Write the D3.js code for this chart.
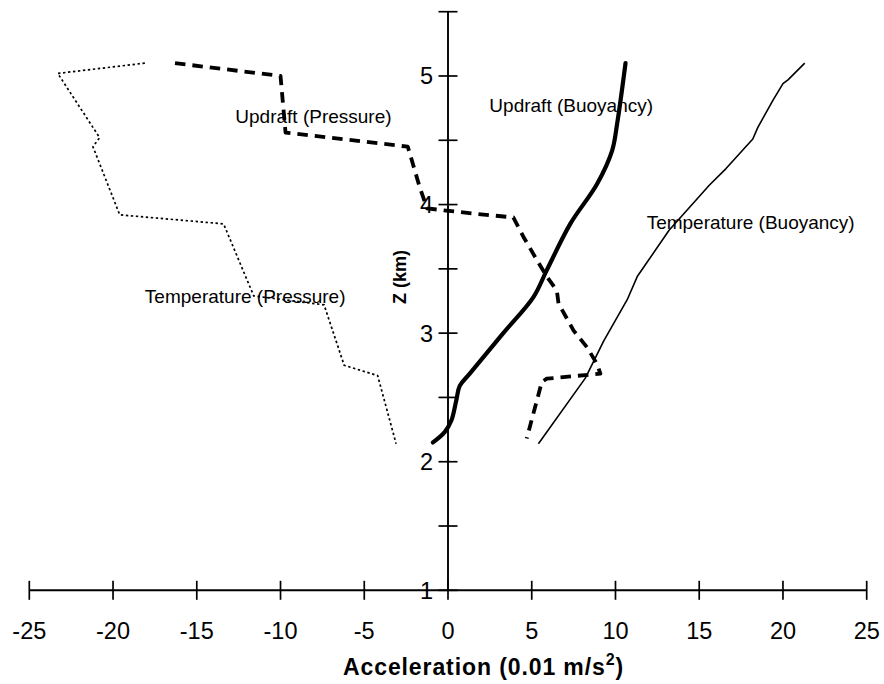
<!DOCTYPE html>
<html>
<head>
<meta charset="utf-8">
<script src="https://cdn.jsdelivr.net/npm/d3@7"></script>
<style>
  html, body { margin: 0; padding: 0; background: #fff; }
  svg { display: block; font-family: "Liberation Sans", Arial, Helvetica, sans-serif; }
</style>
</head>
<body>
<svg id="chart" width="884" height="684"></svg>
<script>
// ---- data (acceleration in 0.01 m/s^2, height Z in km) ----
const tempPressureX = [-18.1, -23.3, -20.8, -21.2, -19.6, -13.4, -11.6, -7.4, -6.2, -4.2, -3.1];
const tempPressureZ = [5.10, 5.02, 4.52, 4.45, 3.92, 3.85, 3.29, 3.22, 2.75, 2.67, 2.14];

const updraftPressureX = [-16.3, -10.0, -9.7, -2.4, -1.7, -1.25, 1.5, 3.9, 4.5, 5.3, 5.9, 6.5, 6.6, 7.5, 8.3, 8.9, 9.1, 5.9, 5.6, 4.7];
const updraftPressureZ = [5.10, 5.00, 4.56, 4.45, 4.14, 3.97, 3.93, 3.90, 3.75, 3.57, 3.44, 3.33, 3.23, 3.02, 2.89, 2.76, 2.685, 2.646, 2.62, 2.18];

const updraftBuoyX = [10.6, 10.1, 9.8, 8.9, 7.3, 5.9, 5.1, 3.3, 1.3, 0.7, 0.5, 0.2, -0.2, -0.9];
const updraftBuoyZ = [5.10, 4.63, 4.42, 4.16, 3.85, 3.49, 3.28, 3.00, 2.685, 2.59, 2.48, 2.32, 2.23, 2.15];

const tempBuoyX = [21.3, 20.3, 20.0, 19.4, 18.5, 18.2, 16.6, 15.6, 13.2, 11.3, 10.7, 9.3, 8.2, 5.4];
const tempBuoyZ = [5.10, 4.97, 4.94, 4.81, 4.60, 4.51, 4.28, 4.15, 3.80, 3.44, 3.26, 2.94, 2.65, 2.14];

const xTicks = [-25, -20, -15, -10, -5, 0, 5, 10, 15, 20, 25];
const yTicks = [1, 1.5, 2, 2.5, 3, 3.5, 4, 4.5, 5, 5.5];
const yTickLabels = [1, 2, 3, 4, 5];

const labelNames = ["Updraft (Pressure)", "Temperature (Pressure)", "Updraft (Buoyancy)", "Temperature (Buoyancy)"];
const labelX = [-12.7, -18.1, 2.47, 11.86];
const labelZ = [4.686, 3.286, 4.77, 3.864];

// ---- layout ----
const svg = d3.select("#chart");
const x = d3.scaleLinear().domain([-25, 25]).range([29.3, 866.7]);
const y = d3.scaleLinear().domain([1, 5.5]).range([590.3, 11.7]);

const zip = (xs, zs) => xs.map((v, i) => [v, zs[i]]);
const line = d3.line().x(d => x(d[0])).y(d => y(d[1]));
const smooth = d3.line().x(d => x(d[0])).y(d => y(d[1])).curve(d3.curveCatmullRom.alpha(0.5));

// x axis (ticks cross the axis line)
const xAxis = svg.append("g").attr("transform", `translate(0,${y(1)})`);
xAxis.append("line").attr("x1", x(-25)).attr("x2", x(25)).attr("stroke", "#000").attr("stroke-width", 1.9);
xAxis.selectAll("line.tick").data(xTicks).enter().append("line")
  .attr("class", "tick")
  .attr("x1", d => x(d)).attr("x2", d => x(d))
  .attr("y1", -9.5).attr("y2", 9.5)
  .attr("stroke", "#000").attr("stroke-width", 1.7);
xAxis.selectAll("text").data(xTicks).enter().append("text")
  .attr("x", d => x(d)).attr("y", 49)
  .attr("text-anchor", "middle")
  .attr("font-size", 23.5)
  .attr("fill", "#000")
  .text(d => d);

// y axis at x = 0
const yAxis = svg.append("g").attr("transform", `translate(${x(0)},0)`);
yAxis.append("line").attr("y1", y(1)).attr("y2", y(5.5)).attr("stroke", "#000").attr("stroke-width", 1.9);
yAxis.selectAll("line.tick").data(yTicks).enter().append("line")
  .attr("class", "tick")
  .attr("y1", d => y(d)).attr("y2", d => y(d))
  .attr("x1", -9.5).attr("x2", 9.5)
  .attr("stroke", "#000").attr("stroke-width", 1.7);
yAxis.selectAll("text").data(yTickLabels).enter().append("text")
  .attr("x", -15).attr("y", d => y(d) + 8.5)
  .attr("text-anchor", "end")
  .attr("font-size", 23.5)
  .attr("fill", "#000")
  .text(d => d);

// axis titles
const xt = svg.append("text")
  .attr("x", 343).attr("y", 675)
  .attr("font-size", 23).attr("font-weight", "bold").attr("fill", "#000")
  .attr("letter-spacing", 0.9);
xt.append("tspan").text("Acceleration (0.01 m/s");
xt.append("tspan").attr("font-size", 16).attr("dy", -10).text("2");
xt.append("tspan").attr("dy", 10).text(")");

svg.append("text")
  .attr("transform", "translate(406,277) rotate(-90)")
  .attr("text-anchor", "middle")
  .attr("font-size", 18).attr("font-weight", "bold").attr("fill", "#000")
  .text("Z (km)");

// series
svg.append("path").datum(zip(tempPressureX, tempPressureZ))
  .attr("d", line).attr("fill", "none").attr("stroke", "#000")
  .attr("stroke-width", 1.7).attr("stroke-dasharray", "2.4,2.6");

svg.append("path").datum(zip(updraftPressureX, updraftPressureZ))
  .attr("d", line).attr("fill", "none").attr("stroke", "#000")
  .attr("stroke-width", 3.8).attr("stroke-dasharray", "10.5,7").attr("stroke-linejoin", "round");

svg.append("path").datum(zip(updraftBuoyX, updraftBuoyZ))
  .attr("d", smooth).attr("fill", "none").attr("stroke", "#000")
  .attr("stroke-width", 4.2).attr("stroke-linecap", "round").attr("stroke-linejoin", "round");

svg.append("path").datum(zip(tempBuoyX, tempBuoyZ))
  .attr("d", line).attr("fill", "none").attr("stroke", "#000")
  .attr("stroke-width", 1.6).attr("stroke-linejoin", "round");

// series labels
svg.selectAll("text.series-label").data(labelNames).enter().append("text")
  .attr("class", "series-label")
  .attr("x", (d, i) => x(labelX[i]))
  .attr("y", (d, i) => y(labelZ[i]) + 6.5)
  .attr("font-size", 19)
  .attr("fill", "#000")
  .text(d => d);
</script>
</body>
</html>
